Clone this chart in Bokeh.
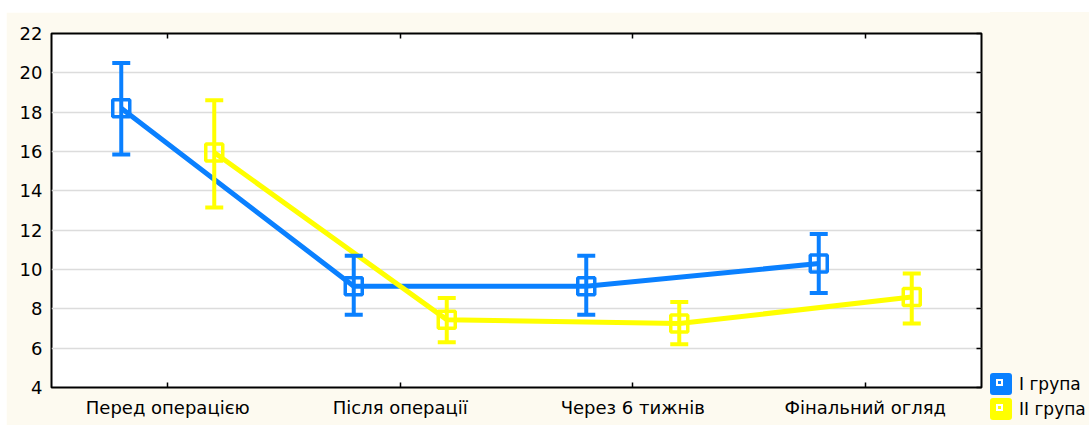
from bokeh.plotting import figure
from bokeh.layouts import row
from bokeh.models import (FactorRange, Range1d, ColumnDataSource, Whisker, TeeHead,
                          CategoricalAxis, LinearAxis, FixedTicker, Div)
from bokeh.transform import dodge
from bokeh.embed import file_html
from bokeh.resources import INLINE

categories = ["Перед операцією", "Після операції", "Через 6 тижнів", "Фінальний огляд"]
g1_mean = [18.2, 9.15, 9.15, 10.3]
g1_upper = [20.5, 10.7, 10.7, 11.8]
g1_lower = [15.85, 7.7, 7.7, 8.8]
g2_mean = [15.95, 7.45, 7.25, 8.6]
g2_upper = [18.6, 8.55, 8.35, 9.8]
g2_lower = [13.15, 6.3, 6.2, 7.25]
series_names = ["I група", "II група"]
y_ticks = [4, 6, 8, 10, 12, 14, 16, 18, 20, 22]

BLUE = "#0A80FF"
YELLOW = "#FFFF00"
CREAM = "#FDFAF0"
FONT = "DejaVu Sans"
FS = "18px"

src = ColumnDataSource(dict(cat=categories, m1=g1_mean, u1=g1_upper, l1=g1_lower,
                            m2=g2_mean, u2=g2_upper, l2=g2_lower))

p = figure(x_range=FactorRange(*categories, range_padding=0), y_range=Range1d(4, 22),
           width=984, height=413, output_backend="svg", toolbar_location=None,
           margin=(12, 0, 0, 6),
           min_border_left=45, min_border_top=21, min_border_bottom=38, min_border_right=9,
           border_fill_color=CREAM, background_fill_color="white",
           outline_line_color="black", outline_line_width=2)

p.xgrid.visible = False
p.yaxis.ticker = FixedTicker(ticks=y_ticks)
p.ygrid.grid_line_color = "#dcdcdc"
p.ygrid.grid_line_width = 1.5

for ax in [p.xaxis[0], p.yaxis[0]]:
    ax.axis_line_color = None
    ax.major_label_text_font = FONT
    ax.major_label_text_font_size = FS
    ax.major_label_text_color = "black"
    ax.minor_tick_line_color = None
    ax.major_tick_line_color = "black"
    ax.major_tick_line_width = 1.5
p.yaxis.major_tick_in = 0
p.yaxis.major_tick_out = 0
p.yaxis.major_label_standoff = 9
p.xaxis.major_tick_in = 5
p.xaxis.major_tick_out = 0
p.xaxis.major_label_standoff = 9

top = CategoricalAxis(axis_line_color=None, major_tick_in=5, major_tick_out=0,
                      major_tick_line_width=1.5, major_label_text_font_size="0px",
                      major_label_text_color=None, major_label_standoff=0)
p.add_layout(top, "above")
right = LinearAxis(ticker=FixedTicker(ticks=y_ticks), axis_line_color=None, major_tick_in=5,
                   major_tick_out=0, major_tick_line_width=1.5, minor_tick_line_color=None,
                   major_label_text_font_size="0px", major_label_text_color=None,
                   major_label_standoff=0)
p.add_layout(right, "right")

series_colors = []
for (m, u, l, off, col) in [("m1", "u1", "l1", -0.2, BLUE), ("m2", "u2", "l2", 0.2, YELLOW)]:
    xs = dodge("cat", off, range=p.x_range)
    p.line(x=xs, y=m, source=src, line_width=5, line_color=col)
    w = Whisker(base=dodge("cat", off, range=p.x_range), upper=u, lower=l, source=src,
                line_color=col, line_width=4, level="glyph",
                upper_head=TeeHead(size=18, line_color=col, line_width=4),
                lower_head=TeeHead(size=18, line_color=col, line_width=4))
    p.add_layout(w)
    p.scatter(x=xs, y=m, source=src, marker="square", size=17, fill_color=None,
              line_color=col, line_width=3.5)
    series_colors.append(col)

# legend panel (HTML) to the right of the chart
rows_html = ""
for name, col in zip(series_names, series_colors):
    rows_html += (
        '<div style="display:flex;align-items:center;height:22px;margin-bottom:3px;white-space:nowrap;">'
        f'<span style="display:inline-block;position:relative;width:22px;height:22px;'
        f'background:{col};border-radius:3px;flex:none;">'
        '<span style="position:absolute;left:6px;top:6px;width:7px;height:7px;'
        'border:2px dashed white;"></span></span>'
        f'<span style="margin-left:7px;">{name}</span></div>'
    )
legend_div = Div(
    text=(f'<div style="padding-top:361px;font-family:\'{FONT}\';font-size:17px;'
          f'color:black;line-height:22px;">{rows_html}</div>'),
    width=99, height=413, margin=(12, 0, 0, 0),
    styles={"background-color": CREAM, "overflow": "hidden"})

layout = row(p, legend_div)
open("out.html", "w").write(file_html(layout, INLINE))
